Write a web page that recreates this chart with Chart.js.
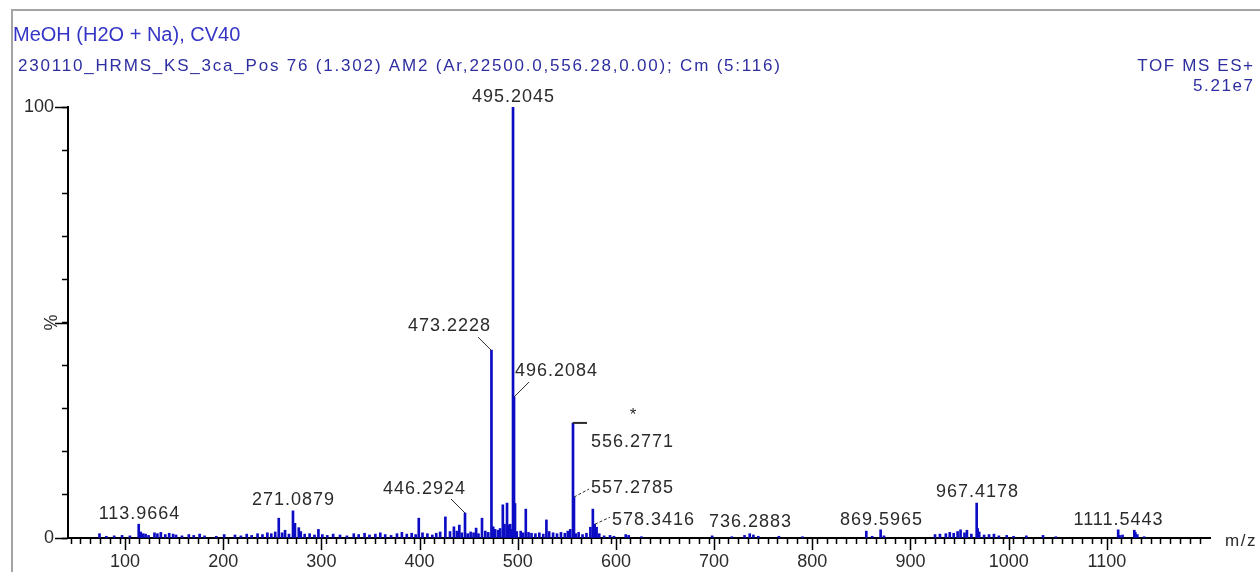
<!DOCTYPE html>
<html>
<head>
<meta charset="utf-8">
<script src="https://cdn.jsdelivr.net/npm/chart.js@4.4.1/dist/chart.umd.min.js"></script>
<style>
  html, body { margin: 0; padding: 0; background: #fff; }
</style>
</head>
<body>
<canvas id="spectrum" width="1260" height="572"></canvas>
<script>
// labelled peaks (m/z, relative intensity %)
const labeledMz = [113.9664, 271.0879, 446.2924, 473.2228, 495.2045, 496.2084, 556.2771,
  557.2785, 578.3416, 736.2883, 869.5965, 967.4178, 1111.5443];
const labeledIntensity = [3.2, 6.3, 5.8, 43.6, 100, 32.7, 26.7, 9.5, 3.2, 1.0, 1.9, 8.1, 1.9];

// unlabelled sticks
const minorMz = [74, 81, 89, 97, 105, 116, 118.5, 121, 124, 130, 133, 136.5, 141, 145, 149, 152,
  158, 165, 170, 176, 181, 193, 201, 212, 218, 224, 229, 235, 240, 245, 249, 253, 256.6, 260,
  263, 267, 273.1, 277, 279, 283, 288, 293, 297, 301, 306, 312, 319, 326, 333, 338, 344, 349,
  355, 360, 365, 371, 377, 382, 387, 392, 396, 399.2, 403, 408, 413, 417, 421, 426.3, 431, 435,
  438, 440.5, 443, 449, 452, 455, 457.6, 460, 463.6, 467, 470, 475, 477, 480, 482, 484.8, 486.5,
  489.1, 490.5, 492.3, 494, 497.2, 499, 503, 505.5, 508.2, 511, 514, 518, 522, 526, 529.2, 532,
  536, 540, 544, 548, 551, 553.5, 559, 562, 566, 570, 574, 576.5, 577.3, 580.3, 583, 588, 594,
  598, 610, 613, 626, 698, 718, 731, 740, 745, 766, 790, 855, 861, 873, 925, 930, 936, 940, 944,
  948, 951, 955, 957.5, 962, 968.4, 970, 975, 980, 985, 990, 998, 1005, 1018, 1035, 1048, 1113,
  1116, 1128, 1129, 1131, 1138];
const minorIntensity = [1.0, 0.4, 0.5, 0.6, 0.5, 1.4, 1.0, 0.9, 0.6, 1.2, 1.0, 1.3, 0.8, 1.1, 0.9, 0.7,
  0.5, 0.8, 0.6, 0.9, 0.5, 0.4, 0.8, 0.7, 0.5, 0.9, 0.6, 1.0, 0.8, 1.2, 1.0, 1.4, 4.6, 1.2,
  1.8, 0.9, 3.4, 2.4, 1.5, 0.9, 1.0, 0.7, 2.0, 0.8, 0.6, 0.9, 0.7, 0.5, 1.0, 0.8, 1.1, 0.7,
  0.9, 1.2, 0.8, 0.6, 1.0, 1.3, 0.9, 1.1, 0.8, 4.6, 1.2, 1.0, 0.7, 1.1, 1.4, 4.9, 1.5, 2.6,
  1.6, 3.0, 1.2, 1.0, 1.4, 1.2, 2.3, 1.0, 4.6, 1.6, 1.3, 2.6, 2.0, 1.8, 2.2, 7.7, 3.2,
  8.1, 3.0, 3.2, 2.0, 8.0, 1.5, 1.6, 1.2, 6.7, 1.3, 1.1, 1.0, 1.2, 0.9, 4.2, 1.5,
  1.2, 1.0, 1.3, 1.1, 1.6, 2.0, 1.0, 1.3, 0.8, 1.1, 2.5, 6.7, 3.0, 2.5, 1.0, 0.5, 0.6,
  0.4, 0.8, 0.6, 0.3, 0.5, 0.3, 0.6, 0.7, 0.4, 0.4, 0.3, 1.6, 0.4, 0.5, 0.8, 0.9, 1.0, 1.3, 1.1,
  1.5, 1.9, 1.2, 1.8, 0.9, 2.2, 1.4, 0.7, 0.8, 0.9, 0.5, 0.6, 0.4, 0.5, 0.6, 0.3, 0.6,
  0.7, 1.8, 1.3, 0.8, 0.3];

const xMin = 47;
const xMax = 1200;
const xMajorTicks = [100, 200, 300, 400, 500, 600, 700, 800, 900, 1000, 1100];
const yMajorTicks = [0, 50, 100];
const yMajorLabels = ['0', '%', '100'];

const titleText = 'MeOH (H2O + Na), CV40';
const subtitleText = '230110_HRMS_KS_3ca_Pos 76 (1.302) AM2 (Ar,22500.0,556.28,0.00); Cm (5:116)';
const modeText = 'TOF MS ES+';
const scaleText = '5.21e7';
const starredMz = 556.2771;

// where each peak label sits relative to its stick top (same order as labeledMz)
const labelLayout = [
  { mode: 'above', ty: -5 },
  { mode: 'above', ty: -6 },
  { mode: 'left', lx: -14, ly: -14, tx: 0, ty: -19 },
  { mode: 'left', lx: -13, ly: -13, tx: -1, ty: -19 },
  { mode: 'above', ty: -5 },
  { mode: 'right', lx: 15, ly: -15, tx: 1, ty: -21 },
  { mode: 'bracket', lx: 14, tx: 18, ty: 24 },
  { mode: 'right', lx: 15, ly: -8, tx: 17, ty: -4, dash: true },
  { mode: 'right', lx: 15, ly: -7, tx: 17, ty: 1, dash: true },
  { mode: 'above', ty: -7 },
  { mode: 'above', ty: -5 },
  { mode: 'above', ty: -6 },
  { mode: 'above', ty: -5 },
];

const stickColor = '#0c0cc4';
const textColor = '#2b2b2b';
const headColor = '#3535c6';
const subColor = '#2e2ea0';
const font = '"Liberation Sans", Arial, sans-serif';

const peaks = [];
labeledMz.forEach((m, i) => peaks.push({ x: m, y: labeledIntensity[i] }));
minorMz.forEach((m, i) => peaks.push({ x: m, y: minorIntensity[i] }));

const xTicks = [];
for (let v = 50; v < xMax; v += 10) xTicks.push(v);

function drawText(ctx, text, x, y, opts) {
  ctx.save();
  ctx.font = opts.font;
  ctx.fillStyle = opts.color || textColor;
  ctx.textAlign = opts.align || 'left';
  ctx.textBaseline = 'alphabetic';
  const sp = opts.spacing || 0;
  ctx.letterSpacing = sp + 'px';
  let dx = 0;
  if (ctx.textAlign === 'center') dx = sp / 2;
  if (ctx.textAlign === 'right') dx = sp;
  ctx.fillText(text, x + dx, y);
  ctx.restore();
}

const decor = {
  id: 'decor',
  beforeDraw(chart) {
    const ctx = chart.ctx;
    ctx.save();
    ctx.fillStyle = '#fff';
    ctx.fillRect(0, 0, chart.width, chart.height);
    ctx.strokeStyle = '#a4a4a4';
    ctx.lineWidth = 2;
    ctx.beginPath();
    ctx.moveTo(12, chart.height);
    ctx.lineTo(12, 10);
    ctx.lineTo(chart.width, 10);
    ctx.stroke();
    ctx.restore();
  },
  afterDatasetsDraw(chart) {
    const ctx = chart.ctx;
    const xs = chart.scales.x;
    const ys = chart.scales.y;
    const lblFont = '18px ' + font;

    labeledMz.forEach((m, i) => {
      const px = Math.round(xs.getPixelForValue(m));
      const py = ys.getPixelForValue(labeledIntensity[i]);
      const lay = labelLayout[i];
      const text = m.toFixed(4);
      ctx.save();
      ctx.strokeStyle = textColor;
      ctx.lineWidth = 1;
      if (lay.mode === 'above') {
        drawText(ctx, text, px, py + lay.ty, { font: lblFont, align: 'center', spacing: 1 });
      } else if (lay.mode === 'bracket') {
        ctx.lineWidth = 2;
        ctx.beginPath();
        ctx.moveTo(px, py);
        ctx.lineTo(px + lay.lx, py);
        ctx.stroke();
        drawText(ctx, text, px + lay.tx, py + lay.ty, { font: lblFont, spacing: 1 });
      } else {
        if (lay.dash) ctx.setLineDash([3, 2]);
        ctx.beginPath();
        ctx.moveTo(px, py);
        ctx.lineTo(px + lay.lx, py + lay.ly);
        ctx.stroke();
        drawText(ctx, text, px + lay.tx, py + lay.ty, {
          font: lblFont, align: lay.mode === 'left' ? 'right' : 'left', spacing: 1
        });
      }
      ctx.restore();
    });

    // asterisk over the 556 peak
    const sx = xs.getPixelForValue(starredMz);
    const sy = ys.getPixelForValue(labeledIntensity[labeledMz.indexOf(starredMz)]);
    drawText(ctx, '*', sx + 60, sy - 3, { font: '17px ' + font, align: 'center' });
  },
  afterDraw(chart) {
    const ctx = chart.ctx;
    const xs = chart.scales.x;
    const ys = chart.scales.y;
    const area = chart.chartArea;

    // longer major ticks
    ctx.save();
    ctx.strokeStyle = '#000';
    ctx.lineWidth = 1.5;
    ctx.beginPath();
    xMajorTicks.forEach(v => {
      const x = Math.round(xs.getPixelForValue(v)) + 0.5;
      ctx.moveTo(x, area.bottom);
      ctx.lineTo(x, area.bottom + 12);
    });
    yMajorTicks.forEach(v => {
      const y = Math.round(ys.getPixelForValue(v)) + 0.5;
      ctx.moveTo(area.left - 13, y);
      ctx.lineTo(area.left, y);
    });
    ctx.stroke();
    ctx.restore();

    // rotated "%" at mid height
    ctx.save();
    ctx.translate(area.left - 17, ys.getPixelForValue(yMajorTicks[1]));
    ctx.rotate(-Math.PI / 2);
    drawText(ctx, yMajorLabels[1], 0, 6, { font: '18px ' + font, align: 'center' });
    ctx.restore();

    drawText(ctx, 'm/z', area.right + 15, area.bottom + 8, { font: '17px ' + font, spacing: 1.5 });

    // header
    drawText(ctx, titleText, 13, 41, { font: '20px ' + font, color: headColor });
    drawText(ctx, subtitleText, 18, 71, { font: '17px ' + font, color: subColor, spacing: 1.8 });
    drawText(ctx, modeText, 1253, 71, { font: '17px ' + font, color: subColor, align: 'right', spacing: 1.6 });
    drawText(ctx, scaleText, 1253, 91, { font: '17px ' + font, color: subColor, align: 'right', spacing: 1.6 });
  }
};

new Chart(document.getElementById('spectrum'), {
  type: 'bar',
  data: {
    datasets: [{
      data: peaks,
      backgroundColor: stickColor,
      borderWidth: 0,
      barThickness: 2,
      grouped: false,
    }],
  },
  options: {
    responsive: false,
    animation: false,
    layout: { padding: { top: 107, right: 50, left: 0, bottom: 0 } },
    plugins: { legend: { display: false }, tooltip: { enabled: false } },
    scales: {
      x: {
        type: 'linear',
        min: xMin,
        max: xMax,
        afterBuildTicks: (scale) => { scale.ticks = xTicks.map(v => ({ value: v })); },
        afterFit: (scale) => { scale.height = 34; },
        border: { display: true, color: '#000', width: 2 },
        grid: { drawOnChartArea: false, tickLength: 6, tickColor: '#000', tickWidth: 1.5 },
        ticks: {
          autoSkip: false,
          maxRotation: 0,
          padding: 7,
          color: textColor,
          font: { family: font, size: 18 },
          callback: (v) => (xMajorTicks.includes(v) ? String(v) : ''),
        },
      },
      y: {
        min: 0,
        max: 100,
        afterFit: (scale) => { scale.width = 68; },
        border: { display: true, color: '#000', width: 2 },
        grid: { drawOnChartArea: false, tickLength: 6, tickColor: '#000', tickWidth: 1.5 },
        ticks: {
          stepSize: 10,
          padding: 8,
          color: textColor,
          font: { family: font, size: 18 },
          callback: (v) => (v === 0 || v === 100 ? yMajorLabels[yMajorTicks.indexOf(v)] : ''),
        },
      },
    },
  },
  plugins: [decor],
});
</script>
</body>
</html>
